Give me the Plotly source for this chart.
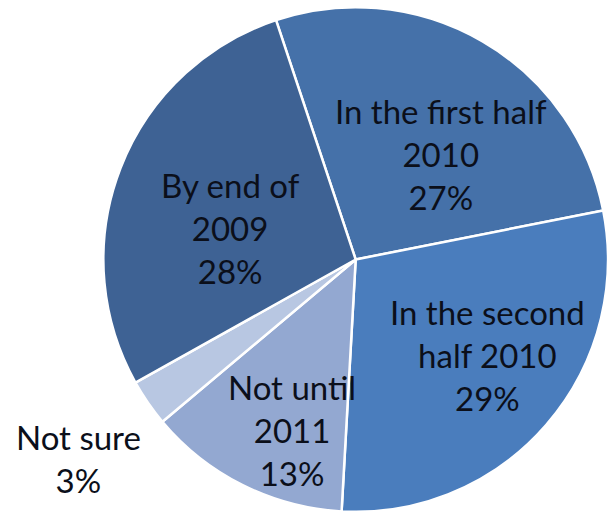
import plotly.graph_objects as go

# Data
categories = ["In the first half 2010", "In the second half 2010", "Not until 2011", "Not sure", "By end of 2009"]
label_lines = ["In the first half<br>2010", "In the second<br>half 2010", "Not until<br>2011", "Not sure", "By end of<br>2009"]
values = [27, 29, 13, 3, 28]

# Style
colors = ["#4571A9", "#4A7DBD", "#93A8D1", "#B8C7E2", "#3E6294"]
label_pos = [(441, 154), (487, 355), (292, 430), (78, 458), (230, 228)]  # pixel centers of label blocks

W, H = 608, 519

fig = go.Figure(go.Pie(
    labels=categories,
    values=values,
    sort=False,
    direction="clockwise",
    rotation=-18.4,
    marker=dict(colors=colors, line=dict(color="white", width=2.5)),
    textinfo="none",
    hoverinfo="label+percent",
    showlegend=False,
    domain=dict(x=[0.17, 1.0], y=[0.0, 1.0]),
))

annotations = []
for txt, v, (px, py) in zip(label_lines, values, label_pos):
    annotations.append(dict(
        text=f"{txt}<br>{v}%",
        x=px / W, y=1 - py / H, xref="paper", yref="paper",
        xanchor="center", yanchor="middle", showarrow=False,
        font=dict(family="Lato", size=33, color="#0b0f1a"),
    ))

fig.update_layout(
    width=W, height=H,
    margin=dict(l=0, r=0, t=0, b=0),
    paper_bgcolor="white",
    plot_bgcolor="white",
    annotations=annotations,
)

fig.write_html("out.html")
